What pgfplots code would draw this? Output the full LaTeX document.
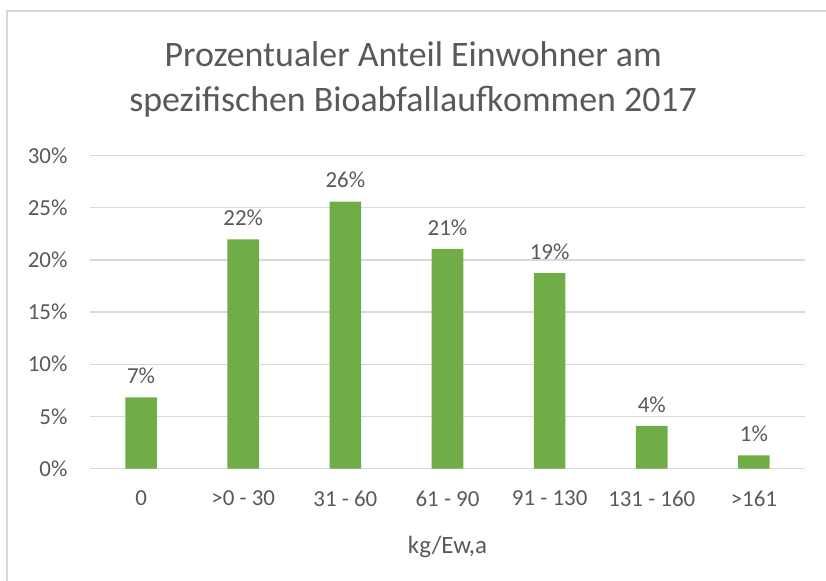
\documentclass[border=0pt]{standalone}
\usepackage{pgfplots}
\pgfplotsset{compat=1.18}
\usepackage{fontspec}
\setmainfont{Carlito}
\definecolor{bargreen}{HTML}{70AD47}
\definecolor{txtgrey}{HTML}{595959}
\definecolor{gridgrey}{HTML}{D9D9D9}
\begin{document}
\begin{tikzpicture}
\useasboundingbox (0,0) rectangle (826bp,581bp);
% chart frame (top and left edge visible)
\draw[gridgrey, line width=2bp] (7bp,0) -- (7bp,570bp) -- (826bp,570bp);
\begin{axis}[
  at={(90bp,112.5bp)}, anchor=south west,
  scale only axis, width=715bp, height=312.8bp,
  xmin=-0.5, xmax=6.5, ymin=0, ymax=30,
  axis line style={draw=none},
  axis x line*=bottom,
  /pgf/number format/assume math mode=true,
  ytick={0,5,10,15,20,25,30},
  yticklabels={0\%,5\%,10\%,15\%,20\%,25\%,30\%},
  xtick={0,...,6},
  xticklabels={0,>0 - 30,31 - 60,61 - 90,91 - 130,131 - 160,>161},
  major tick length=0pt,
  ymajorgrids, grid style={gridgrey, line width=1.3bp},
  tick label style={font=\fontsize{23}{27}\selectfont, text=txtgrey},
  yticklabel style={xshift=-19bp},
  xticklabel style={yshift=-19bp},
  title={Prozentualer Anteil Einwohner am\\spezifischen Bioabfallaufkommen 2017},
  title style={at={(axis description cs:0.452,1.225)}, anchor=center, align=center,
    font=\fontsize{36}{45}\selectfont, text=txtgrey},
  xlabel={kg/Ew,a},
  xlabel style={at={(axis description cs:0.5,-0.25)}, anchor=center,
    font=\fontsize{25}{30}\selectfont, text=txtgrey},
  ybar, bar width=31.6bp,
  nodes near coords={\pgfmathprintnumber[fixed,precision=0]{\pgfplotspointmeta}\%},
  nodes near coords style={font=\fontsize{23}{27}\selectfont, text=txtgrey, yshift=10bp},
]
\draw[gridgrey, line width=1.3bp] (axis cs:-0.5,0) -- (axis cs:6.5,0);
\addplot[fill=bargreen, draw=none] coordinates {
  (0,6.83) (1,21.97) (2,25.6) (3,21.07) (4,18.74) (5,4.1) (6,1.26)
};
\end{axis}
\end{tikzpicture}
\end{document}
